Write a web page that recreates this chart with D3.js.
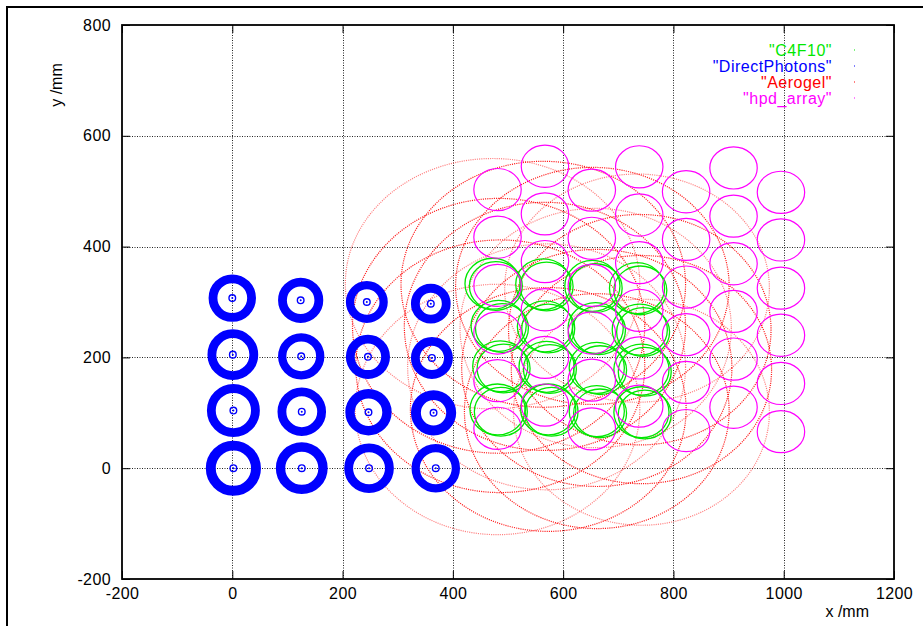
<!DOCTYPE html>
<html lang="en">
<head>
<meta charset="UTF-8">
<title>RICH rings</title>
<script src="https://cdn.jsdelivr.net/npm/d3@7"></script>
<style>
  body { margin: 0; background: #fff; }
  svg { display: block; }
  text { font-family: "Liberation Sans", Arial, Helvetica, sans-serif; }
</style>
</head>
<body>
<svg id="chart" width="923" height="626"></svg>
<script>
// axis ticks
const xTicks = [-200, 0, 200, 400, 600, 800, 1000, 1200]
const yTicks = [-200, 0, 200, 400, 600, 800]

// DirectPhotons: thick rings (mm), bottom row first
const dpX    = [2, 126, 248, 369,   2, 126, 247, 365,   1, 125, 246, 362,   0, 124, 244, 360]
const dpY    = [0, 0, 0, 0,   104, 102, 101, 100,   205, 202, 201, 199,   307, 303, 300, 297]
const dpROut = [50, 47, 45, 44,   48, 44, 42, 41,   46, 42, 40, 38,   43, 41, 38, 36]
const dpRIn  = [32, 30, 29, 29,   32, 28, 25, 23,   30, 27, 24, 22,   27, 25, 23, 20]
const dpSpotR = 6

// C4F10: double rings (mm)
const c4X = [481, 573, 661, 742,   486, 570, 661, 742,   483, 567, 659, 739,   472, 564, 653, 734]
const c4Y = [106, 106, 103, 101,   184, 183, 181, 178,   257, 256, 253, 250,   333, 332, 329, 325]
const c4Rx = 50, c4Ry = 46
const c4Shift = [6, -4]

// Aerogel: large rings (mm)
const aeroX  = [481, 573, 661, 742,   486, 570, 661, 742,   483, 567, 659, 739,   472, 564, 653, 734]
const aeroY  = [106, 106, 103, 101,   184, 183, 181, 178,   257, 256, 253, 250,   333, 332, 329, 325]
const aeroRx = [258, 250, 240, 232,   262, 252, 245, 236,   265, 255, 246, 238,   267, 258, 248, 240]
const aeroRy = [226, 220, 212, 204,   228, 222, 214, 206,   230, 224, 216, 208,   226, 222, 214, 206]
const aeroFaint = [1, 0, 0, 1,   0, 1, 0, 0,   0, 0, 1, 0,   1, 0, 0, 1]

// hpd_array: pixel detector outlines (mm)
const hpdColX = [481, 567, 652, 738, 823, 909, 995]
const hpdColY = [
  [503, 417, 330, 244, 158, 72],
  [545, 459, 373, 286, 200, 114],
  [502, 415, 330, 244, 159, 71],
  [544, 457, 371, 285, 199, 112],
  [499, 413, 327, 241, 155, 68],
  [542, 455, 369, 283, 197, 110],
  [498, 412, 325, 240, 153, 66]
]
const hpdRx = 43, hpdRy = 38

const legendNames = ['"C4F10"', '"DirectPhotons"', '"Aerogel"', '"hpd_array"']
const legendColors = ['#00e800', '#0000ff', '#ff0000', '#ff00ff']

const svg = d3.select('#chart')
const pl = 122, pr = 894, pt = 25, pb = 579

const x = d3.scaleLinear().domain([-200, 1200]).range([pl, pr])
const y = d3.scaleLinear().domain([-200, 800]).range([pb, pt])
const rxPx = r => x(r) - x(0)
const ryPx = r => y(0) - y(r)

svg.append('rect').attr('width', 923).attr('height', 626).style('fill', '#fff')
// outer frame
svg.append('rect')
  .attr('x', 7).attr('y', 7).attr('width', 1000).attr('height', 1000)
  .style('fill', 'none').style('stroke', '#000').style('stroke-width', 2)

svg.append('defs').append('clipPath').attr('id', 'plot')
  .append('rect').attr('x', pl).attr('y', pt).attr('width', pr - pl).attr('height', pb - pt)

// grid
const grid = svg.append('g').style('stroke', '#222').style('stroke-width', 1).style('stroke-dasharray', '1,1.5')
grid.selectAll('line.gx').data(xTicks.slice(1, -1)).enter().append('line')
  .attr('x1', d => Math.round(x(d)) + 0.5).attr('x2', d => Math.round(x(d)) + 0.5)
  .attr('y1', pt).attr('y2', pb)
grid.selectAll('line.gy').data(yTicks.slice(1, -1)).enter().append('line')
  .attr('y1', d => Math.round(y(d)) + 0.5).attr('y2', d => Math.round(y(d)) + 0.5)
  .attr('x1', pl).attr('x2', pr)

const plot = svg.append('g').attr('clip-path', 'url(#plot)')

// aerogel
const aero = aeroX.map((d, i) => ({ x: d, y: aeroY[i], rx: aeroRx[i], ry: aeroRy[i], faint: aeroFaint[i] }))
plot.selectAll('ellipse.aero').data(aero).enter().append('ellipse')
  .attr('cx', d => x(d.x)).attr('cy', d => y(d.y))
  .attr('rx', d => rxPx(d.rx)).attr('ry', d => ryPx(d.ry))
  .style('fill', 'none').style('stroke', '#ff0000').style('stroke-width', 1.2)
  .style('stroke-dasharray', '1.1,1.1')
  .style('opacity', d => d.faint ? 0.5 : 0.9)

// direct photons
const dp = dpX.map((d, i) => ({ x: d, y: dpY[i], rOut: dpROut[i], rIn: dpRIn[i] }))
plot.selectAll('circle.dp').data(dp).enter().append('circle')
  .attr('cx', d => x(d.x)).attr('cy', d => y(d.y))
  .attr('r', d => rxPx((d.rOut + d.rIn) / 2))
  .style('fill', 'none').style('stroke', '#0000ff')
  .style('stroke-width', d => rxPx(d.rOut - d.rIn))
plot.selectAll('circle.spot').data(dp).enter().append('circle')
  .attr('cx', d => x(d.x)).attr('cy', d => y(d.y))
  .attr('r', rxPx(dpSpotR))
  .style('fill', 'none').style('stroke', '#0000ff').style('stroke-width', 1.4)
plot.selectAll('circle.dot').data(dp).enter().append('circle')
  .attr('cx', d => x(d.x)).attr('cy', d => y(d.y))
  .attr('r', 1).style('fill', '#0000ff')

// c4f10
const c4 = c4X.map((d, i) => ({ x: d, y: c4Y[i] }))
;[[0, 0], c4Shift].forEach(s => {
  plot.selectAll(null).data(c4).enter().append('ellipse')
    .attr('cx', d => x(d.x + s[0])).attr('cy', d => y(d.y + s[1]))
    .attr('rx', rxPx(c4Rx - Math.abs(s[1]) / 2)).attr('ry', ryPx(c4Ry - Math.abs(s[1]) / 2))
    .style('fill', 'none').style('stroke', '#00e800').style('stroke-width', 1.3)
})

// hpd array
const hpd = []
hpdColX.forEach((cx, c) => hpdColY[c].forEach(cy => hpd.push({ x: cx, y: cy })))
plot.selectAll('ellipse.hpd').data(hpd).enter().append('ellipse')
  .attr('cx', d => x(d.x)).attr('cy', d => y(d.y))
  .attr('rx', rxPx(hpdRx)).attr('ry', ryPx(hpdRy))
  .style('fill', 'none').style('stroke', '#ff00ff').style('stroke-width', 1.2)

// axes with inward ticks
const fmt = d => String(d)
svg.append('g').attr('transform', `translate(0,${pb})`)
  .call(d3.axisBottom(x).tickValues(xTicks).tickFormat(fmt).tickSize(-8).tickPadding(9))
svg.append('g').attr('transform', `translate(${pl},0)`)
  .call(d3.axisLeft(y).tickValues(yTicks).tickFormat(fmt).tickSize(-8).tickPadding(11))
svg.append('g').attr('transform', `translate(0,${pt})`)
  .call(d3.axisTop(x).tickValues(xTicks).tickSize(-8).tickFormat(''))
svg.append('g').attr('transform', `translate(${pr},0)`)
  .call(d3.axisRight(y).tickValues(yTicks).tickSize(-8).tickFormat(''))
svg.selectAll('.domain').remove()
svg.selectAll('.tick line').style('stroke', '#000').style('stroke-width', 1)
svg.selectAll('.tick text').style('font-size', '16px').style('fill', '#000')
  .style('font-family', '"Liberation Sans", Arial, sans-serif').style('letter-spacing', '0.4px')

svg.append('rect')
  .attr('x', pl).attr('y', pt).attr('width', pr - pl).attr('height', pb - pt)
  .style('fill', 'none').style('stroke', '#000').style('stroke-width', 1.8)

// axis titles
svg.append('text').attr('x', 869).attr('y', 617).attr('text-anchor', 'end')
  .style('font-size', '16px').text('x /mm')
svg.append('text').attr('transform', 'translate(62,85) rotate(-90)').attr('text-anchor', 'middle')
  .style('font-size', '16px').text('y /mm')

// legend
const leg = svg.append('g').selectAll('g').data(legendNames).enter().append('g')
  .attr('transform', (d, i) => `translate(0,${50 + i * 16})`)
leg.append('text').attr('x', 832).attr('dy', '0.36em').attr('text-anchor', 'end')
  .style('font-size', '16px').style('letter-spacing', '0.5px')
  .style('fill', (d, i) => legendColors[i]).text(d => d)
leg.append('rect').attr('x', 854).attr('y', -0.5).attr('width', 1).attr('height', 1)
  .style('fill', (d, i) => legendColors[i])
</script>
</body>
</html>
